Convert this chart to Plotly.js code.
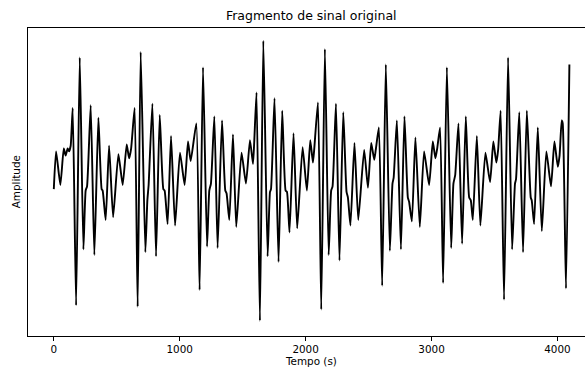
<!DOCTYPE html>
<html>
<head>
<meta charset="utf-8">
<script src="https://cdn.plot.ly/plotly-3.0.1.min.js"></script>
<style>html,body{margin:0;padding:0;background:#fff;}#chart{width:585px;height:369px;}</style>
</head>
<body>
<div id="chart"></div>
<script>
// Sample index (time) of each traced point of the signal
const tempo = [0,18,52,79,94,110,121,134,150,177,206,235,253,264,293,322,354,380,388,412,439,471,513,547,579,598,614,642,666,690,727,743,753,783,812,841,870,880,904,931,963,1002,1039,1066,1087,1132,1158,1185,1217,1235,1248,1275,1301,1336,1362,1372,1394,1423,1449,1491,1526,1558,1582,1592,1610,1637,1664,1698,1717,1725,1753,1785,1814,1841,1852,1872,1904,1933,1976,2010,2037,2058,2068,2098,2124,2153,2183,2203,2214,2241,2269,2299,2325,2336,2356,2388,2418,2465,2495,2521,2545,2557,2582,2608,2637,2669,2690,2699,2725,2757,2785,2812,2822,2844,2872,2907,2941,2981,3010,3031,3045,3068,3092,3122,3156,3174,3188,3214,3243,3272,3299,3312,3328,3360,3388,3428,3465,3491,3515,3529,3549,3576,3608,3640,3663,3671,3697,3727,3757,3788,3796,3815,3844,3876,3912,3949,3976,4003,4017,4034,4042,4068,4095];
// Amplitude values (arbitrary units, no tick labels in the original)
const amplitude = [-0.03,0.24,0.00,0.26,0.21,0.26,0.24,0.28,0.55,-0.86,0.91,-0.46,-0.04,-0.01,0.57,-0.50,0.48,-0.03,-0.04,-0.25,0.28,-0.23,0.22,0.00,0.29,0.19,0.26,0.55,-0.87,0.95,-0.48,-0.11,0.00,0.58,-0.51,0.50,-0.03,-0.04,-0.28,0.35,-0.29,0.23,0.00,0.31,0.17,0.44,-0.75,0.84,-0.44,-0.04,0.01,0.49,-0.45,0.46,-0.04,-0.06,-0.25,0.36,-0.30,0.23,0.01,0.32,0.15,0.31,0.66,-0.97,1.03,-0.51,-0.05,-0.03,0.62,-0.55,0.53,-0.04,-0.05,-0.34,0.37,-0.31,0.27,-0.04,0.32,0.16,0.25,0.59,-0.89,0.97,-0.50,-0.04,-0.01,0.58,-0.54,0.52,-0.05,-0.09,-0.29,0.30,-0.25,0.25,-0.02,0.30,0.18,0.25,0.41,-0.72,0.86,-0.47,0.01,0.05,0.46,-0.46,0.49,-0.09,-0.12,-0.26,0.34,-0.30,0.24,0.00,0.31,0.19,0.26,0.41,-0.70,0.84,-0.45,0.01,0.07,0.44,-0.42,0.49,-0.09,-0.11,-0.25,0.35,-0.29,0.23,0.02,0.31,0.16,0.25,0.53,-0.82,0.91,-0.46,0.01,0.04,0.52,-0.48,0.53,-0.09,-0.11,-0.28,0.41,-0.33,0.24,-0.01,0.31,0.13,0.21,0.46,0.44,-0.74,0.86];
const xTicks = [0,1000,2000,3000,4000];
const titulo = "Fragmento de sinal original";
const xLabel = "Tempo (s)";
const yLabel = "Amplitude";

const font = "DejaVu Sans, sans-serif";
Plotly.newPlot("chart", [{
  x: tempo, y: amplitude, type: "scatter", mode: "lines",
  line: {color: "#000", width: 1.9, shape: "spline", smoothing: 0.5},
  hoverinfo: "skip"
}], {
  width: 585, height: 369,
  margin: {l: 28, r: 0, t: 28, b: 33, pad: 0},
  paper_bgcolor: "#fff", plot_bgcolor: "#fff",
  showlegend: false,
  title: {text: titulo, x: 0.532, xref: "container", xanchor: "center", y: 0.957, yref: "container", yanchor: "middle", font: {family: font, size: 12.5, color: "#000"}},
  xaxis: {range: [-205, 4219], tickvals: xTicks, ticktext: xTicks.map(String), ticks: "outside", ticklen: 4, tickwidth: 1, tickcolor: "#000",
    showgrid: false, zeroline: false, showline: true, linecolor: "#000", linewidth: 1, mirror: true,
    tickfont: {family: font, size: 10.4, color: "#000"}},
  yaxis: {range: [-1.079, 1.121], showticklabels: false, ticks: "", showgrid: false, zeroline: false,
    showline: true, linecolor: "#000", linewidth: 1, mirror: false},
  annotations: [
    {text: xLabel, xref: "paper", yref: "paper", x: 0.508, y: -0.082, xanchor: "center", yanchor: "middle", showarrow: false, font: {family: font, size: 10.4, color: "#000"}},
    {text: yLabel, xref: "paper", yref: "paper", x: -0.0215, y: 0.499, xanchor: "center", yanchor: "middle", textangle: -90, showarrow: false, font: {family: font, size: 10.4, color: "#000"}}
  ]
}, {displayModeBar: false, staticPlot: true});
</script>
</body>
</html>
